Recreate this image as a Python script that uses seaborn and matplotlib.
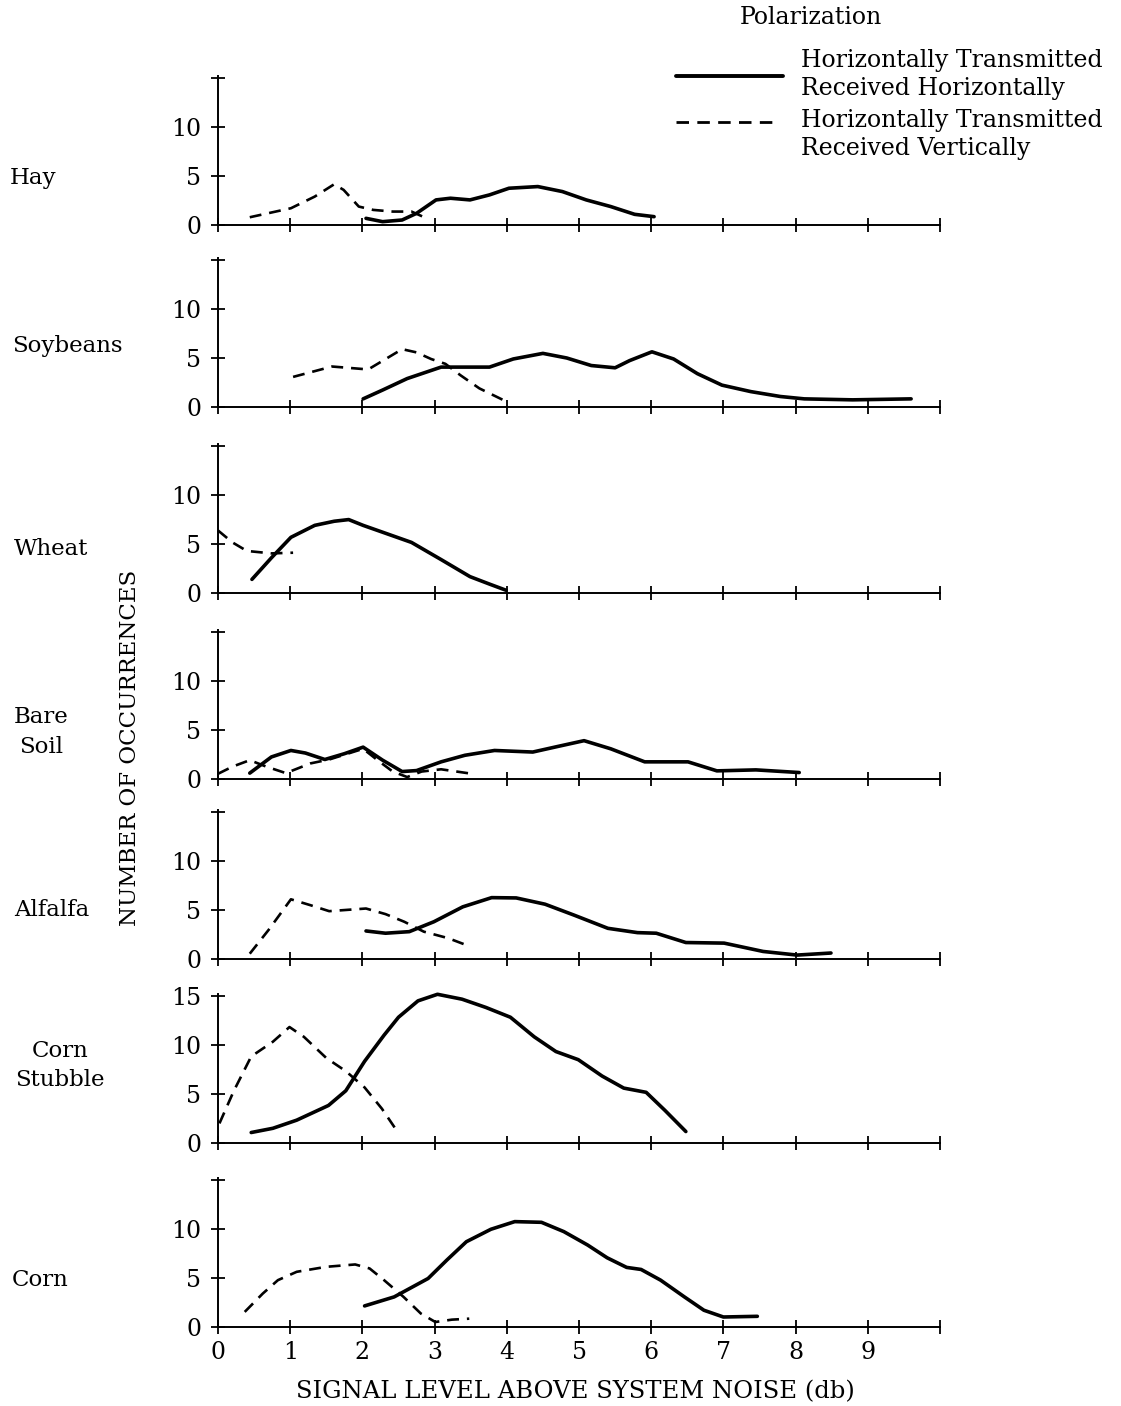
import matplotlib
matplotlib.use('Agg')
import matplotlib.pyplot as plt
import matplotlib.transforms as mtransforms
from matplotlib.lines import Line2D
import pandas as pd
import seaborn as sns

# signal level (db) / number of occurrences
# HH = horizontally transmitted, received horizontally (solid)
# HV = horizontally transmitted, received vertically (dashed)
hay_hh_x = [2.05, 2.28, 2.55, 2.75, 3.02, 3.22, 3.49, 3.76, 4.03, 4.43, 4.77, 5.10, 5.44, 5.77, 6.04]
hay_hh_y = [0.68, 0.34, 0.51, 1.19, 2.56, 2.73, 2.56, 3.07, 3.75, 3.92, 3.41, 2.56, 1.88, 1.09, 0.85]
hay_hv_x = [0.44, 1.01, 1.34, 1.61, 1.74, 1.95, 2.15, 2.42, 2.68, 2.89]
hay_hv_y = [0.79, 1.71, 2.90, 4.16, 3.58, 1.88, 1.54, 1.37, 1.37, 0.68]

soy_hh_x = [2.01, 2.28, 2.62, 3.09, 3.76, 4.09, 4.50, 4.83, 5.17, 5.50, 5.70, 6.01, 6.31, 6.64, 6.98,
            7.38, 7.79, 8.12, 8.79, 9.60]
soy_hh_y = [0.83, 1.73, 2.90, 4.07, 4.07, 4.90, 5.47, 5.00, 4.23, 4.00, 4.73, 5.63, 4.90, 3.40, 2.23,
            1.57, 1.07, 0.83, 0.73, 0.83]
soy_hv_x = [1.04, 1.58, 2.08, 2.55, 2.75, 2.95, 3.15, 3.36, 3.62, 3.99]
soy_hv_y = [3.07, 4.13, 3.83, 5.90, 5.57, 4.90, 4.40, 3.23, 1.90, 0.57]

wheat_hh_x = [0.47, 0.74, 1.01, 1.34, 1.61, 1.81, 2.01, 2.28, 2.68, 3.09, 3.49, 3.76, 3.99]
wheat_hh_y = [1.39, 3.59, 5.68, 6.90, 7.32, 7.49, 6.90, 6.20, 5.16, 3.41, 1.67, 0.91, 0.28]
wheat_hv_x = [0.0, 0.20, 0.40, 0.74, 1.04]
wheat_hv_y = [6.38, 5.16, 4.29, 4.04, 4.11]

soil_hh_x = [0.44, 0.74, 1.01, 1.21, 1.48, 1.75, 2.01, 2.28, 2.55, 2.75, 3.09, 3.42, 3.83, 4.36, 4.70,
             5.07, 5.44, 5.91, 6.51, 6.91, 7.45, 8.05]
soil_hh_y = [0.60, 2.25, 2.91, 2.65, 1.99, 2.58, 3.25, 1.92, 0.76, 0.86, 1.75, 2.42, 2.91, 2.75, 3.31,
             3.91, 3.08, 1.75, 1.75, 0.83, 0.93, 0.66]
soil_hv_x = [0.0, 0.20, 0.44, 0.67, 0.94, 1.28, 1.54, 2.01, 2.21, 2.42, 2.62, 2.82, 3.09, 3.52]
soil_hv_y = [0.53, 1.26, 1.92, 1.26, 0.60, 1.59, 1.99, 3.08, 1.92, 0.76, 0.20, 0.76, 0.99, 0.53]

alfalfa_hh_x = [2.05, 2.32, 2.65, 2.99, 3.39, 3.79, 4.13, 4.53, 4.93, 5.40, 5.81, 6.07, 6.48, 7.01,
                7.55, 8.02, 8.49]
alfalfa_hh_y = [2.86, 2.63, 2.79, 3.80, 5.32, 6.26, 6.23, 5.59, 4.48, 3.13, 2.69, 2.63, 1.68, 1.62,
                0.77, 0.40, 0.61]
alfalfa_hv_x = [0.44, 0.70, 1.01, 1.28, 1.54, 2.05, 2.32, 2.58, 2.85, 3.19, 3.49]
alfalfa_hv_y = [0.54, 2.96, 6.09, 5.49, 4.88, 5.15, 4.58, 3.80, 2.79, 2.12, 1.28]

stubble_hh_x = [0.46, 0.76, 1.09, 1.53, 1.77, 2.03, 2.30, 2.50, 2.77, 3.04, 3.38, 3.71, 4.05, 4.38,
                4.68, 4.99, 5.32, 5.62, 5.93, 6.19, 6.48]
stubble_hh_y = [1.07, 1.50, 2.33, 3.83, 5.33, 8.33, 11.0, 12.83, 14.5, 15.17, 14.67, 13.83, 12.83,
                10.83, 9.33, 8.50, 6.83, 5.60, 5.17, 3.33, 1.17]
stubble_hv_x = [0.02, 0.22, 0.46, 0.76, 0.99, 1.19, 1.50, 1.77, 2.03, 2.27, 2.50]
stubble_hv_y = [2.0, 5.33, 8.83, 10.33, 11.83, 10.83, 8.67, 7.33, 5.67, 3.50, 1.0]

corn_hh_x = [2.03, 2.44, 2.91, 3.17, 3.44, 3.78, 4.11, 4.48, 4.79, 5.12, 5.39, 5.66, 5.86, 6.13, 6.46,
             6.73, 7.00, 7.47]
corn_hh_y = [2.15, 3.07, 4.95, 6.83, 8.70, 9.97, 10.75, 10.68, 9.73, 8.36, 7.06, 6.08, 5.87, 4.78,
             3.07, 1.71, 1.02, 1.09]
corn_hv_x = [0.37, 0.62, 0.83, 1.09, 1.50, 1.90, 2.10, 2.30, 2.57, 2.81, 3.01, 3.24, 3.48]
corn_hv_y = [1.54, 3.41, 4.78, 5.63, 6.14, 6.38, 5.97, 4.78, 3.07, 1.37, 0.51, 0.75, 0.85]

crops = ['Hay', 'Soybeans', 'Wheat', 'Bare\nSoil', 'Alfalfa', 'Corn\nStubble', 'Corn']
hh = [(hay_hh_x, hay_hh_y), (soy_hh_x, soy_hh_y), (wheat_hh_x, wheat_hh_y), (soil_hh_x, soil_hh_y),
      (alfalfa_hh_x, alfalfa_hh_y), (stubble_hh_x, stubble_hh_y), (corn_hh_x, corn_hh_y)]
hv = [(hay_hv_x, hay_hv_y), (soy_hv_x, soy_hv_y), (wheat_hv_x, wheat_hv_y), (soil_hv_x, soil_hv_y),
      (alfalfa_hv_x, alfalfa_hv_y), (stubble_hv_x, stubble_hv_y), (corn_hv_x, corn_hv_y)]

x_ticks = list(range(11))
x_tick_labels = [str(i) for i in range(10)] + ['']
y_ticks = [0, 5, 10, 15]

sns.set_style('ticks')
plt.rcParams['font.family'] = ['DejaVu Serif']
plt.rcParams['font.size'] = 16
for key in ['text.color', 'axes.labelcolor', 'xtick.color', 'ytick.color', 'axes.edgecolor']:
    plt.rcParams[key] = 'black'

W, H = 1121, 1406
fig = plt.figure(figsize=(W / 100, H / 100), dpi=100)

baselines = [225, 407, 593, 779, 959, 1143, 1327]   # px from top
label_y = [4.8, 6.2, 4.5, 4.8, 5.0, 7.9, 4.8]
label_x = [10, 12, 14, 41, 14, 60, 12]
label_ha = ['left', 'left', 'left', 'center', 'left', 'center', 'left']
ax_h = 149

solid_style = dict(color='black', lw=2.6, solid_capstyle='round', solid_joinstyle='round')
dash_style = dict(color='black', lw=1.9, linestyle=(0, (4.5, 3)))

for i, crop in enumerate(crops):
    b = baselines[i]
    ax = fig.add_axes([218 / W, 1 - b / H, 722 / W, ax_h / H])
    df_hh = pd.DataFrame({'db': hh[i][0], 'n': hh[i][1]})
    df_hv = pd.DataFrame({'db': hv[i][0], 'n': hv[i][1]})
    sns.lineplot(data=df_hh, x='db', y='n', ax=ax, sort=False, estimator=None, clip_on=False, **solid_style)
    sns.lineplot(data=df_hv, x='db', y='n', ax=ax, sort=False, estimator=None, clip_on=False, **dash_style)

    ax.set_xlim(0, 10)
    ax.set_ylim(0, 15.2)
    ax.set_xticks(x_ticks)
    ax.set_yticks(y_ticks)
    ax.set_yticklabels(['0', '5', '10', '15' if crop == 'Corn\nStubble' else ''])
    if i == len(crops) - 1:
        ax.set_xticklabels(x_tick_labels)
    else:
        ax.set_xticklabels([])
    ax.set_xlabel('')
    ax.set_ylabel('')
    ax.tick_params(axis='both', direction='inout', length=10, width=1.3, labelsize=17, colors='black')
    ax.tick_params(axis='x', pad=5)
    ax.tick_params(axis='y', pad=7)
    for side in ['top', 'right']:
        ax.spines[side].set_visible(False)
    for side in ['left', 'bottom']:
        ax.spines[side].set_linewidth(1.4)
        ax.spines[side].set_color('black')
    ax.patch.set_visible(False)

    tr = mtransforms.blended_transform_factory(fig.transFigure, ax.transData)
    ax.text(label_x[i] / W, label_y[i], crop, transform=tr, ha=label_ha[i], va='center',
            fontsize=16.5, linespacing=1.45)

fig.text(130 / W, 1 - 748 / H, 'NUMBER OF OCCURRENCES', rotation=90, ha='center', va='center',
         fontsize=16.5)
fig.text(575 / W, 1 - 1392 / H, 'SIGNAL LEVEL ABOVE SYSTEM NOISE (db)', ha='center', va='center',
         fontsize=17.5)

# legend drawn by hand to match the layout of the original
fig.text(811 / W, 1 - 18 / H, 'Polarization', ha='center', va='center', fontsize=17)
fig.add_artist(Line2D([676 / W, 783 / W], [1 - 76 / H, 1 - 76 / H], transform=fig.transFigure,
                      color='black', lw=2.8))
fig.add_artist(Line2D([676 / W, 780 / W], [1 - 122 / H, 1 - 122 / H], transform=fig.transFigure,
                      color='black', lw=2.0, linestyle=(0, (4.5, 3))))
legend_lines = ['Horizontally Transmitted', 'Received Horizontally',
                'Horizontally Transmitted', 'Received Vertically']
for txt, y in zip(legend_lines, [61, 88, 121, 148]):
    fig.text(801 / W, 1 - y / H, txt, ha='left', va='center', fontsize=17)

fig.savefig('out.png', dpi=100)
